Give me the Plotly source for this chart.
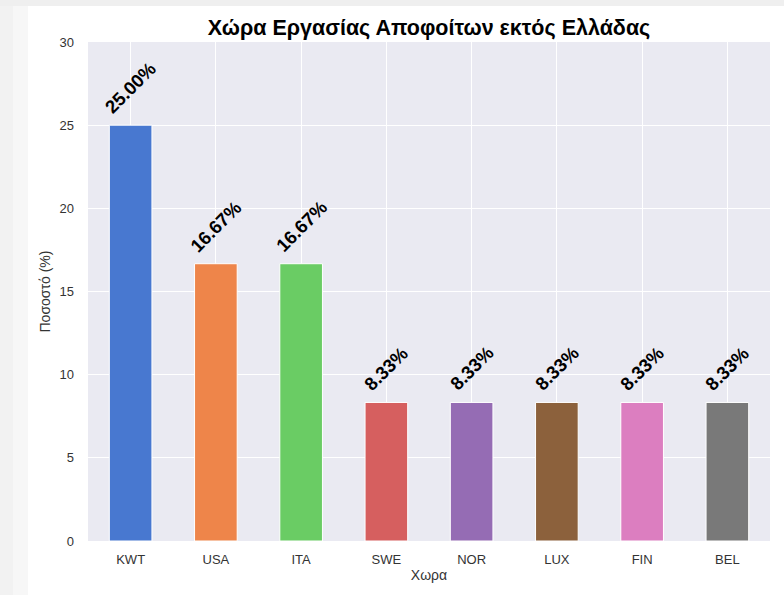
import plotly.graph_objects as go

countries = ["KWT", "USA", "ITA", "SWE", "NOR", "LUX", "FIN", "BEL"]
percentages = [25.00, 16.67, 16.67, 8.33, 8.33, 8.33, 8.33, 8.33]
colors = ["#4878d0", "#ee854a", "#6acc64", "#d65f5f", "#956cb4", "#8c613c", "#dc7ec0", "#797979"]
y_ticks = [0, 5, 10, 15, 20, 25, 30]

font_family = "Arial, Liberation Sans, sans-serif"

fig = go.Figure()
fig.add_trace(go.Bar(
    x=countries, y=percentages,
    marker=dict(color=colors, line=dict(color="white", width=1)),
    width=0.5, hoverinfo="skip",
))

for c, p in zip(countries, percentages):
    fig.add_annotation(
        x=c, y=p, text=f"{p:.2f}%", showarrow=False,
        textangle=-45, xanchor="center", yanchor="bottom", yshift=5,
        font=dict(family=font_family, size=18.5, color="black", weight="bold"),
    )

# page/card background shadow strips
PW = 682.0
PH = 499.0
fig.add_shape(type="rect", xref="paper", yref="paper", x0=-88 / PW, x1=-75 / PW, y0=-60 / PH, y1=1 + 42 / PH,
              fillcolor="#f2f2f2", line_width=0, layer="below")
fig.add_shape(type="rect", xref="paper", yref="paper", x0=-75 / PW, x1=-60 / PW, y0=-60 / PH, y1=1 + 42 / PH,
              fillcolor="#f7f7f7", line_width=0, layer="below")
fig.add_shape(type="rect", xref="paper", yref="paper", x0=-88 / PW, x1=1 + 20 / PW, y0=1 + 36 / PH, y1=1 + 42 / PH,
              fillcolor="#efefef", line_width=0, layer="below")

fig.update_layout(
    width=784, height=595,
    margin=dict(l=88, r=14, t=42, b=54, autoexpand=False),
    paper_bgcolor="white", plot_bgcolor="#eaeaf2",
    title=dict(text="Χώρα Εργασίας Αποφοίτων εκτός Ελλάδας", x=(88 + 770) / 2 / 784, xanchor="center",
               y=1 - 27 / 595, yanchor="middle",
               font=dict(family=font_family, size=21.5, color="black", weight="bold")),
    showlegend=False,
    xaxis=dict(title=dict(text="Χωρα", font=dict(family=font_family, size=14, color="#333"), standoff=4),
               tickfont=dict(family=font_family, size=13, color="#333"), ticklabelstandoff=9,
               showgrid=True, gridcolor="white", gridwidth=1.2, range=[-0.5, 7.5],
               ticks="", zeroline=False, automargin=False),
    yaxis=dict(title=dict(text="Ποσοστό (%)", font=dict(family=font_family, size=14, color="#333"), standoff=5),
               tickfont=dict(family=font_family, size=13, color="#333"), ticklabelstandoff=13,
               tickvals=y_ticks, range=[0, 30], showgrid=True, gridcolor="white", gridwidth=1.2,
               ticks="", zeroline=False, automargin=False),
)

fig.write_html("out.html", config={"displayModeBar": False},
               post_script="document.body.style.margin='0';document.body.style.overflow='hidden';")
